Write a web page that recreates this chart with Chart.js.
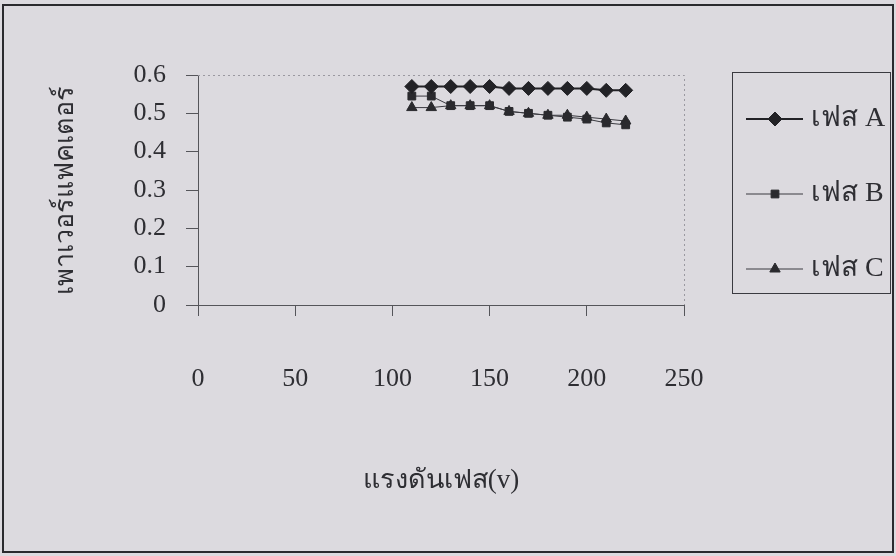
<!DOCTYPE html>
<html>
<head>
<meta charset="utf-8">
<script src="https://cdn.jsdelivr.net/npm/chart.js@4"></script>
<style>
  html, body { margin: 0; padding: 0; background: #dcdadf; }
  #wrap { width: 896px; height: 556px; position: relative; }
</style>
</head>
<body>
<div id="wrap"><canvas id="c" width="896" height="556"></canvas></div>
<script>
// Phase voltage (V) and measured power factor of each phase
const voltages = [110, 120, 130, 140, 150, 160, 170, 180, 190, 200, 210, 220];
const phaseA = [0.57, 0.57, 0.57, 0.57, 0.57, 0.565, 0.565, 0.565, 0.565, 0.565, 0.56, 0.56];
const phaseB = [0.545, 0.545, 0.52, 0.52, 0.52, 0.505, 0.5, 0.495, 0.49, 0.485, 0.475, 0.47];
const phaseC = [0.515, 0.515, 0.52, 0.52, 0.52, 0.505, 0.5, 0.495, 0.495, 0.49, 0.485, 0.48];
const seriesNames = ['เฟส A', 'เฟส B', 'เฟส C'];
const xTitle = 'แรงดันเฟส(v)';
const yTitle = 'เพาเวอร์แฟคเตอร์';

const FONT = "'Liberation Serif', 'Times New Roman', serif";
const INK = '#2e2e33';

const toPoints = ys => voltages.map((v, i) => ({ x: v, y: ys[i] }));

// Outer frame, faint dotted plot border and the boxed legend
const decorations = {
  id: 'decorations',
  beforeDraw(chart) {
    const ctx = chart.ctx;
    ctx.save();
    ctx.fillStyle = '#dcdadf';
    ctx.fillRect(0, 0, chart.width, chart.height);
    ctx.restore();
  },
  afterDraw(chart) {
    const ctx = chart.ctx;
    const a = chart.chartArea;
    ctx.save();
    // dotted top and right edges of the plot area
    ctx.strokeStyle = '#9a98a0';
    ctx.lineWidth = 1;
    ctx.setLineDash([2, 3]);
    ctx.beginPath();
    ctx.moveTo(a.left, a.top + 0.5);
    ctx.lineTo(a.right + 0.5, a.top + 0.5);
    ctx.lineTo(a.right + 0.5, a.bottom);
    ctx.stroke();
    ctx.setLineDash([]);

    // outer frame
    ctx.strokeStyle = '#2a2a2e';
    ctx.lineWidth = 2;
    ctx.strokeRect(3, 5, 890, 547);

    // legend box
    const box = { x: 732, y: 72, w: 158, h: 221 };
    ctx.lineWidth = 1;
    ctx.strokeStyle = '#3a3a40';
    ctx.strokeRect(box.x + 0.5, box.y + 0.5, box.w, box.h);

    const rows = [119, 194, 269];
    chart.data.datasets.forEach((ds, i) => {
      const y = rows[i];
      ctx.strokeStyle = ds.borderColor;
      ctx.lineWidth = ds.borderWidth;
      ctx.beginPath();
      ctx.moveTo(746, y);
      ctx.lineTo(803, y);
      ctx.stroke();
      ctx.fillStyle = ds.pointBackgroundColor;
      ctx.strokeStyle = ds.pointBorderColor;
      ctx.lineWidth = 1;
      Chart.helpers.drawPoint(ctx, {
        pointStyle: ds.pointStyle,
        radius: ds.pointRadius,
        borderWidth: 1,
        rotation: 0
      }, 775, y);
      ctx.fillStyle = INK;
      ctx.font = '28px ' + FONT;
      ctx.textAlign = 'left';
      ctx.textBaseline = 'middle';
      ctx.fillText(ds.label, 811, y);
    });
    ctx.restore();
  }
};

const common = {
  fill: false,
  tension: 0,
  pointBorderWidth: 1
};

new Chart(document.getElementById('c'), {
  type: 'line',
  data: {
    datasets: [
      Object.assign({}, common, {
        label: seriesNames[0],
        data: toPoints(phaseA),
        borderColor: '#222226',
        borderWidth: 2,
        pointStyle: 'rectRot',
        pointRadius: 7,
        pointBackgroundColor: '#222226',
        pointBorderColor: '#222226'
      }),
      Object.assign({}, common, {
        label: seriesNames[1],
        data: toPoints(phaseB),
        borderColor: '#3a3a40',
        borderWidth: 1,
        pointStyle: 'rect',
        pointRadius: 5.5,
        pointBackgroundColor: '#2a2a2e',
        pointBorderColor: '#2a2a2e'
      }),
      Object.assign({}, common, {
        label: seriesNames[2],
        data: toPoints(phaseC),
        borderColor: '#3a3a40',
        borderWidth: 1,
        pointStyle: 'triangle',
        pointRadius: 6,
        pointBackgroundColor: '#2a2a2e',
        pointBorderColor: '#2a2a2e'
      })
    ]
  },
  options: {
    responsive: false,
    animation: false,
    devicePixelRatio: 1,
    layout: { padding: { top: 75, left: 14, right: 212, bottom: 46 } },
    plugins: {
      legend: { display: false },
      tooltip: { enabled: false }
    },
    scales: {
      x: {
        type: 'linear',
        min: 0,
        max: 250,
        ticks: {
          stepSize: 50,
          color: INK,
          font: { family: FONT, size: 26 },
          padding: 48
        },
        grid: {
          drawOnChartArea: false,
          drawTicks: true,
          tickLength: 11,
          color: '#55555a'
        },
        border: { color: '#55555a', width: 1 },
        title: {
          display: true,
          text: xTitle,
          color: INK,
          font: { family: FONT, size: 27 },
          padding: { top: 50, bottom: 13 }
        },
        afterFit(s) { s.height = 205; }
      },
      y: {
        type: 'linear',
        min: 0,
        max: 0.6,
        ticks: {
          stepSize: 0.1,
          color: INK,
          font: { family: FONT, size: 26 },
          padding: 20,
          callback: v => String(+v.toFixed(1))
        },
        grid: {
          drawOnChartArea: false,
          drawTicks: true,
          tickLength: 12,
          color: '#55555a'
        },
        border: { color: '#55555a', width: 1 },
        title: {
          display: true,
          text: yTitle,
          color: INK,
          font: { family: FONT, size: 27 },
          padding: { top: 36, bottom: 0 }
        },
        afterFit(s) { s.width = 184; }
      }
    }
  },
  plugins: [decorations]
});
</script>
</body>
</html>
